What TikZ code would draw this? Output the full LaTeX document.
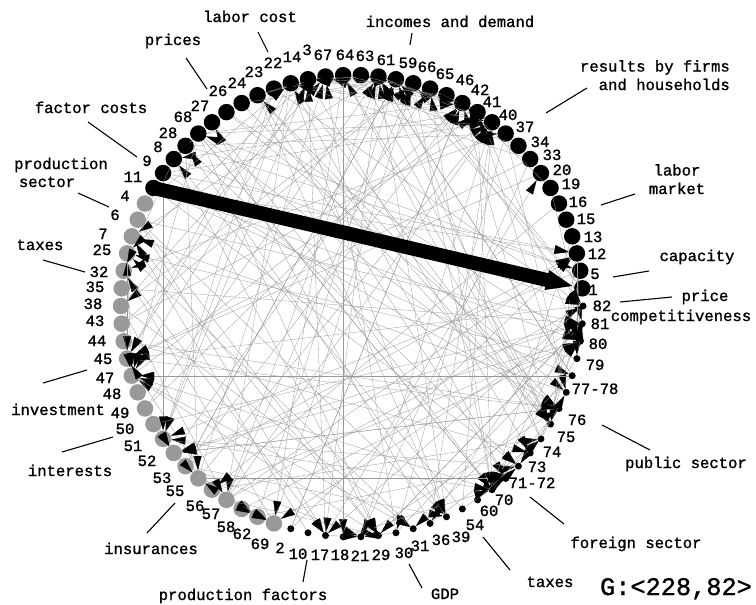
\documentclass[tikz,border=0pt]{standalone}
\usepackage{fontspec}
\newfontfamily\labfont{Liberation Mono}[FakeBold=1.2]
\usetikzlibrary{arrows.meta}
\tikzset{
 bignode/.style={circle,fill=black,inner sep=0pt,minimum size=16.5pt},
 greynode/.style={circle,fill=black!40,inner sep=0pt,minimum size=16.5pt},
 dotnode/.style={circle,fill=black,inner sep=0pt,minimum size=7pt},
 numlab/.style={font=\labfont\fontsize{15.6}{18.5}\selectfont,inner sep=0pt,anchor=base,yshift=-5pt},
 topic/.style={numlab},
 biglab/.style={font=\labfont\fontsize{25.3}{28}\selectfont,inner sep=0pt,anchor=base,yshift=-8pt},
 link/.style={draw=black!40,line width=0.3pt,-{Triangle[length=14pt,width=8pt,color=black]}},
 heavy/.style={line width=14pt,-{Triangle[length=28pt,width=18pt]}},
 leader/.style={line width=1.1pt},
}
\begin{document}
\begin{tikzpicture}[x=1pt,y=-1pt]
\fill[white] (0,0) rectangle (756,605);
\useasboundingbox (0,0) rectangle (756,605);
% nodes on the circle
\foreach \i in {1,...,34}{\pgfmathsetmacro\a{\i*4.390244}
  \node[bignode] (p\i) at ({352+231*cos(\a)},{306-231*sin(\a)}) {};}
\foreach \i in {35,...,57}{\pgfmathsetmacro\a{\i*4.390244}
  \node[greynode] (p\i) at ({352+231*cos(\a)},{306-231*sin(\a)}) {};}
\foreach \i in {58,...,82}{\pgfmathsetmacro\a{\i*4.390244}
  \node[dotnode] (p\i) at ({352+231*cos(\a)},{306-231*sin(\a)}) {};}
% edges
\pgfmathsetseed{7}
\pgfmathdeclarerandomlist{tgt}{{33}{32}{31}{30}{30}{29}{29}{26}{24}{24}{24}{24}{23}{23}{23}{23}{22}{22}{22}{21}{20}{19}{19}{19}{19}{18}{18}{18}{18}{17}{17}{17}{16}{16}{16}{15}{15}{15}{14}{14}{14}{14}{13}{13}{13}{13}{12}{12}{12}{12}{11}{11}{8}{3}{3}{3}{2}%
{36}{37}{38}{38}{38}{39}{39}{41}{41}{43}{44}{44}{44}{44}{44}{44}{45}{45}{45}{45}{49}{49}{50}{50}{52}{53}{54}{56}{56}{56}{56}{57}{57}{57}%
{60}{60}{61}{61}{61}{62}{62}{62}{63}{63}{63}{63}{64}{64}{65}{65}{66}{67}{69}{69}{69}{70}{70}{70}{70}{71}{71}{71}{72}{72}{72}{73}{73}{73}{74}{74}{75}{75}{75}{75}{75}{76}{76}{76}{76}{76}{77}{77}{77}{77}{78}{78}{78}{78}{79}{79}{79}{80}{80}{81}{81}{81}{82}{82}}
\foreach \e in {1,...,210}{
  \pgfmathrandomitem{\tg}{tgt}
  \pgfmathrandominteger{\sr}{1}{82}
  \pgfmathtruncatemacro{\sr}{\sr==\tg ? mod(\sr+40,82)+1 : \sr}
  \draw[link] (p\sr) -- (p\tg);
}
\draw[heavy] (p34.center) -- (p1);
% number labels
\foreach \t/\x/\y [count=\c] in {
 11/133/177, 9/147/161, 8/158/147, 28/168/133, 68/183/117, 27/200/106,
 26/218/91, 24/237/83, 23/254/72, 22/273/63, 14/292/57, 3/307/50,
 67/323/55, 64/345/55, 63/365/56, 61/386/60, 59/408/63, 66/427/67,
 65/445/74, 46/465/80, 42/480/90, 41/492/102, 40/508/115, 37/525/127,
 34/540/142, 33/552/155, 20/562/170, 19/571/184, 16/578/202, 15/586/219,
 13/593/237, 12/597/254, 5/595/274, 1/593/290, 82/602/306, 81/600/324,
 80/598/344, 79/595/365, 77-78/595/389, 76/577/420, 75/566/437, 74/552/452,
 73/537/467, 71-72/532/483, 70/504/500, 60/489/511, 54/475/525, 39/461/537,
 36/441/540, 31/420/546, 30/404/553, 29/381/555, 21/360/556, 18/340/555,
 17/320/555, 10/298/554, 2/280/548, 69/260/544, 62/242/534, 58/226/527,
 57/211/514, 56/195/506, 55/175/491, 53/162/478, 52/147/461, 51/133/446,
 50/125/429, 49/120/413, 48/112/394, 47/105/378, 45/103/359, 44/97/341,
 43/95/321, 38/93/304, 35/95/287, 32/99/272, 25/102/250, 7/103/234,
 6/115/215, 4/125/196}
 {\node[numlab] (q\c) at (\x,\y) {\t};}
% group labels
\node[topic] (tlc) at (250,17) {labor cost};
\node[topic] (tpr) at (173,40) {prices};
\node[topic] (tfc) at (91,108) {factor costs};
\node[topic] (tid) at (450,22) {incomes and demand};
\node[topic,align=right,anchor=base east] (trf) at (730,85) {results by firms\\and households};
\node[topic,align=center] (tlm) at (677,189) {labor\\market};
\node[topic] (tca) at (697,256) {capacity};
\node[topic] (tp1) at (705,296) {price};
\node[topic] (tp2) at (681,316) {competitiveness};
\node[topic] (tpu) at (686,463) {public sector};
\node[topic] (tfs) at (636,543) {foreign sector};
\node[topic] (ttr) at (550,582) {taxes};
\node[biglab] (tg) at (676,587) {G:<228,82>};
\node[topic] (tgdp) at (445,594) {GDP};
\node[topic] (tpf) at (243,595) {production factors};
\node[topic] (tin) at (151,549) {insurances};
\node[topic] (tir) at (70,471) {interests};
\node[topic] (tiv) at (58,410) {investment};
\node[topic] (ttl) at (40,245) {taxes};
\node[topic] (tps1) at (61,164) {production};
\node[topic] (tps2) at (47,182) {sector};
% leader lines
\foreach \ax/\ay/\bx/\by [count=\c] in {
 258/32/268/52, 186/58/207/89, 88/122/137/157, 412/33/410/45,
 587/88/546/113, 635/194/601/205, 649/271/613/277, 672/297/620/302,
 602/425/650/450, 530/497/564/524, 483/537/510/570, 409/564/422/588,
 307/560/303/582, 175/503/147/533, 62/452/113/437, 43/383/87/370,
 43/260/85/272, 78/193/109/207}
 {\coordinate (a\c) at (\ax,\ay); \coordinate (b\c) at (\bx,\by);
  \draw[leader] (a\c) -- (b\c);}
\end{tikzpicture}
\end{document}
